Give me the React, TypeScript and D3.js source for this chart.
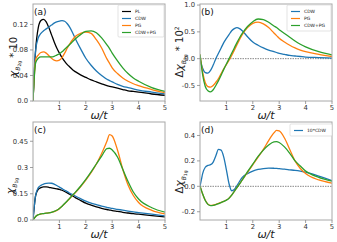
import React from 'react';
import * as d3 from 'd3';

// omega/t grid the curves were read on
const omega = [0, 0.05, 0.1, 0.2, 0.3, 0.4, 0.5, 0.6, 0.7, 0.8, 0.9, 1.0, 1.1, 1.2, 1.3, 1.4, 1.5, 1.6, 1.8, 2.0, 2.2, 2.4, 2.6, 2.8, 2.9, 3.0, 3.2, 3.4, 3.6, 3.8, 4.0, 4.5, 5.0];

// (a) chi B2g * 10
const aPL = [0, 0.045, 0.08, 0.115, 0.126, 0.128, 0.124, 0.115, 0.104, 0.093, 0.083, 0.075, 0.068, 0.062, 0.057, 0.053, 0.049, 0.046, 0.041, 0.037, 0.033, 0.030, 0.027, 0.024, 0.023, 0.022, 0.020, 0.018, 0.016, 0.015, 0.014, 0.011, 0.009];
const aCDW = [0, 0.05, 0.08, 0.099, 0.106, 0.110, 0.113, 0.116, 0.119, 0.122, 0.124, 0.125, 0.126, 0.125, 0.121, 0.115, 0.107, 0.098, 0.082, 0.067, 0.056, 0.047, 0.040, 0.034, 0.032, 0.030, 0.026, 0.023, 0.021, 0.019, 0.017, 0.014, 0.011];
const aPG = [0, 0.04, 0.065, 0.072, 0.076, 0.077, 0.075, 0.071, 0.067, 0.064, 0.063, 0.064, 0.068, 0.075, 0.083, 0.090, 0.096, 0.101, 0.106, 0.108, 0.106, 0.096, 0.083, 0.066, 0.059, 0.052, 0.043, 0.036, 0.031, 0.027, 0.024, 0.018, 0.013];
const aBoth = [0, 0.038, 0.06, 0.067, 0.069, 0.069, 0.069, 0.069, 0.069, 0.070, 0.072, 0.074, 0.077, 0.081, 0.085, 0.089, 0.093, 0.097, 0.104, 0.109, 0.110, 0.107, 0.099, 0.088, 0.082, 0.075, 0.063, 0.052, 0.043, 0.036, 0.031, 0.021, 0.015];

// (b) delta chi B2g * 10^2
const bCDW = [0, -0.1, -0.18, -0.26, -0.27, -0.22, -0.12, 0.0, 0.1, 0.2, 0.3, 0.38, 0.45, 0.52, 0.56, 0.58, 0.56, 0.52, 0.41, 0.31, 0.25, 0.2, 0.16, 0.13, 0.115, 0.10, 0.08, 0.06, 0.05, 0.04, 0.03, 0.02, 0.01];
const bPG = [0.08, -0.1, -0.25, -0.45, -0.52, -0.53, -0.5, -0.44, -0.37, -0.28, -0.19, -0.11, -0.03, 0.06, 0.16, 0.26, 0.36, 0.45, 0.58, 0.66, 0.68, 0.65, 0.58, 0.48, 0.43, 0.38, 0.31, 0.25, 0.2, 0.16, 0.13, 0.08, 0.04];
const bBoth = [0.08, -0.12, -0.3, -0.52, -0.6, -0.62, -0.58, -0.5, -0.41, -0.31, -0.2, -0.1, 0.0, 0.1, 0.2, 0.3, 0.39, 0.47, 0.6, 0.69, 0.74, 0.73, 0.68, 0.61, 0.58, 0.54, 0.47, 0.40, 0.33, 0.27, 0.22, 0.13, 0.07];

// (c) chi B1g
const cPL = [0, 0.08, 0.14, 0.175, 0.185, 0.189, 0.189, 0.187, 0.184, 0.181, 0.178, 0.175, 0.17, 0.163, 0.155, 0.146, 0.137, 0.128, 0.112, 0.096, 0.085, 0.075, 0.067, 0.06, 0.057, 0.054, 0.049, 0.044, 0.040, 0.036, 0.033, 0.025, 0.018];
const cCDW = [0, 0.08, 0.14, 0.185, 0.198, 0.205, 0.209, 0.211, 0.21, 0.205, 0.197, 0.188, 0.179, 0.17, 0.162, 0.153, 0.145, 0.137, 0.122, 0.108, 0.097, 0.088, 0.079, 0.072, 0.069, 0.066, 0.061, 0.056, 0.051, 0.046, 0.042, 0.033, 0.024];
const cPG = [0, 0.01, 0.02, 0.03, 0.035, 0.037, 0.039, 0.041, 0.044, 0.048, 0.055, 0.065, 0.078, 0.093, 0.108, 0.124, 0.14, 0.156, 0.19, 0.228, 0.27, 0.32, 0.38, 0.45, 0.488, 0.48, 0.40, 0.29, 0.2, 0.14, 0.10, 0.055, 0.035];
const cBoth = [0, 0.01, 0.02, 0.03, 0.035, 0.037, 0.039, 0.041, 0.044, 0.049, 0.056, 0.066, 0.079, 0.094, 0.11, 0.126, 0.142, 0.158, 0.193, 0.232, 0.275, 0.32, 0.365, 0.408, 0.41, 0.40, 0.36, 0.29, 0.22, 0.16, 0.12, 0.07, 0.045];

// (d) delta chi B1g
const dCDW10 = [0, 0.05, 0.1, 0.15, 0.165, 0.17, 0.19, 0.24, 0.29, 0.285, 0.23, 0.13, 0.02, -0.035, -0.025, 0.005, 0.04, 0.07, 0.1, 0.12, 0.133, 0.14, 0.143, 0.142, 0.141, 0.139, 0.135, 0.13, 0.125, 0.119, 0.112, 0.08, 0.045];
const dPG = [0, -0.03, -0.06, -0.11, -0.14, -0.15, -0.148, -0.142, -0.135, -0.127, -0.118, -0.108, -0.093, -0.07, -0.04, -0.01, 0.02, 0.05, 0.11, 0.17, 0.23, 0.29, 0.36, 0.42, 0.44, 0.436, 0.38, 0.29, 0.2, 0.14, 0.1, 0.05, 0.025];
const dBoth = [0, -0.03, -0.06, -0.112, -0.142, -0.152, -0.15, -0.144, -0.136, -0.128, -0.119, -0.109, -0.094, -0.07, -0.04, -0.01, 0.02, 0.05, 0.115, 0.175, 0.235, 0.285, 0.325, 0.35, 0.352, 0.345, 0.31, 0.26, 0.2, 0.16, 0.12, 0.07, 0.04];

const xTicks = [1, 2, 3, 4, 5];
const aTicks = [0, 0.04, 0.08, 0.12];
const aTickLabels = ['0.0', '0.04', '0.08', '0.12'];
const bTicks = [-0.5, 0, 0.5, 1.0];
const bTickLabels = ['-0.5', '0.0', '0.5', '1.0'];
const cTicks = [0, 0.15, 0.3, 0.45];
const cTickLabels = ['0.0', '0.15', '0.3', '0.45'];
const dTicks = [-0.2, 0, 0.2, 0.4];
const dTickLabels = ['-0.2', '0.0', '0.2', '0.4'];

const BLACK = '#000000';
const BLUE = '#1f77b4';
const ORANGE = '#ff7f0e';
const GREEN = '#2ca02c';
const FONT = 'DejaVu Sans';

type Series = { name: string; values: number[]; color: string };

const Panel = ({ box, yDomain, yTicks, yTickLabels, series, tag, zero, legend, yLabel }) => {
  const { left, top, right, bottom } = box;
  const x = d3.scaleLinear().domain([0, 5]).range([left, right]);
  const y = d3.scaleLinear().domain(yDomain).range([bottom, top]);
  const line = d3
    .line<number>()
    .x((_, i) => x(omega[i]))
    .y((d) => y(d))
    .curve(d3.curveMonotoneX);

  return (
    <g>
      <defs>
        <clipPath id={'clip' + tag}>
          <rect x={left} y={top} width={right - left} height={bottom - top} />
        </clipPath>
      </defs>
      {zero && (
        <line x1={left} x2={right} y1={y(0)} y2={y(0)} stroke="#888" strokeWidth={1} strokeDasharray="1.5,1" />
      )}
      <g clipPath={`url(#clip${tag})`}>
        {series.map((s: Series) => (
          <path key={s.name} d={line(s.values) || ''} fill="none" stroke={s.color} strokeWidth={1.3} />
        ))}
      </g>
      <rect x={left} y={top} width={right - left} height={bottom - top} fill="none" stroke="#a8a8a8" strokeWidth={1} />
      {yTicks.map((t: number, i: number) => (
        <g key={'y' + i}>
          <line x1={left - 3} x2={left} y1={y(t)} y2={y(t)} stroke="#888" strokeWidth={0.8} />
          <text x={left - 5} y={y(t)} dy="0.35em" textAnchor="end" fontSize={6.8} fontFamily={FONT} fill="#333">
            {yTickLabels[i]}
          </text>
        </g>
      ))}
      {xTicks.map((t) => (
        <g key={'x' + t}>
          <line x1={x(t)} x2={x(t)} y1={bottom} y2={bottom + 3} stroke="#888" strokeWidth={0.8} />
          <text x={x(t)} y={bottom + 9} textAnchor="middle" fontSize={6.8} fontFamily={FONT} fill="#333">
            {t}
          </text>
        </g>
      ))}
      <text x={left + 1} y={top + 11} fontSize={9} fontFamily={FONT} fill="#111">
        ({tag})
      </text>
      <text x={(left + right) / 2} y={bottom + 18} textAnchor="middle" fontSize={11} fontFamily={FONT} fontStyle="italic" fill="#222">
        ω/t
      </text>
      {yLabel}
      {legend && (
        <g>
          <rect x={legend.x} y={legend.y} width={legend.w} height={legend.h} fill="white" stroke="#d0d0d0" strokeWidth={0.6} rx={1} />
          {legend.items.map((s: Series, i: number) => {
            const ly = legend.y + 6.5 + i * 7;
            return (
              <g key={s.name}>
                <line x1={legend.x + 4} x2={legend.x + 13} y1={ly} y2={ly} stroke={s.color} strokeWidth={1.2} />
                <text x={legend.x + 17} y={ly} dy="0.35em" fontSize={4.5} fontFamily={FONT} fill="#222">
                  {s.name}
                </text>
              </g>
            );
          })}
        </g>
      )}
    </g>
  );
};

const ChiLabel = ({ x, y, delta, sub, power }) => (
  <text transform={`translate(${x},${y}) rotate(-90)`} textAnchor="middle" fontFamily={FONT} fontSize={10} fill="#222">
    {delta ? <tspan>Δ</tspan> : null}
    <tspan fontStyle="italic" fontSize={11}>χ</tspan>
    <tspan fontSize={6} fontStyle="italic" dy={2.5}>B</tspan>
    <tspan fontSize={4.5} dy={1.5}>{sub}</tspan>
    {power > 0 ? <tspan dy={-4}> * 10</tspan> : null}
    {power === 2 ? <tspan fontSize={6} dy={-4}>2</tspan> : null}
  </text>
);

export default function App() {
  const panels = [
    {
      tag: 'a',
      box: { left: 33, top: 4, right: 165, bottom: 101 },
      yDomain: [0, 0.152],
      yTicks: aTicks,
      yTickLabels: aTickLabels,
      series: [
        { name: 'PL', values: aPL, color: BLACK },
        { name: 'CDW', values: aCDW, color: BLUE },
        { name: 'PG', values: aPG, color: ORANGE },
        { name: 'CDW+PG', values: aBoth, color: GREEN },
      ],
      zero: false,
      legendPos: { x: 118, y: 5, w: 46, h: 32 },
      legendCount: 4,
      yLabel: <ChiLabel x={17} y={57} delta={false} sub="2g" power={1} />,
    },
    {
      tag: 'b',
      box: { left: 200, top: 4, right: 332, bottom: 101 },
      yDomain: [-0.79, 1.02],
      yTicks: bTicks,
      yTickLabels: bTickLabels,
      series: [
        { name: 'CDW', values: bCDW, color: BLUE },
        { name: 'PG', values: bPG, color: ORANGE },
        { name: 'CDW+PG', values: bBoth, color: GREEN },
      ],
      zero: true,
      legendPos: { x: 287, y: 5, w: 44, h: 26 },
      legendCount: 3,
      yLabel: <ChiLabel x={183} y={52} delta={true} sub="2g" power={2} />,
    },
    {
      tag: 'c',
      box: { left: 33, top: 122, right: 165, bottom: 220 },
      yDomain: [0, 0.56],
      yTicks: cTicks,
      yTickLabels: cTickLabels,
      series: [
        { name: 'PL', values: cPL, color: BLACK },
        { name: 'CDW', values: cCDW, color: BLUE },
        { name: 'PG', values: cPG, color: ORANGE },
        { name: 'CDW+PG', values: cBoth, color: GREEN },
      ],
      zero: false,
      legendPos: null,
      legendCount: 0,
      yLabel: <ChiLabel x={14} y={186} delta={false} sub="1g" power={0} />,
    },
    {
      tag: 'd',
      box: { left: 200, top: 122, right: 332, bottom: 220 },
      yDomain: [-0.265, 0.506],
      yTicks: dTicks,
      yTickLabels: dTickLabels,
      series: [
        { name: '10*CDW', values: dCDW10, color: BLUE },
        { name: 'PG', values: dPG, color: ORANGE },
        { name: 'CDW+PG', values: dBoth, color: GREEN },
      ],
      zero: true,
      legendPos: { x: 290, y: 124, w: 42, h: 12 },
      legendCount: 1,
      yLabel: <ChiLabel x={183} y={182} delta={true} sub="1g" power={0} />,
    },
  ];

  return (
    <svg width={337} height={242} style={{ position: 'absolute', left: 0, top: 0, background: 'white' }}>
      {panels.map((p) => (
        <Panel
          key={p.tag}
          tag={p.tag}
          box={p.box}
          yDomain={p.yDomain}
          yTicks={p.yTicks}
          yTickLabels={p.yTickLabels}
          series={p.series}
          zero={p.zero}
          legend={p.legendPos ? { ...p.legendPos, items: p.series.slice(0, p.legendCount) } : null}
          yLabel={p.yLabel}
        />
      ))}
    </svg>
  );
}
